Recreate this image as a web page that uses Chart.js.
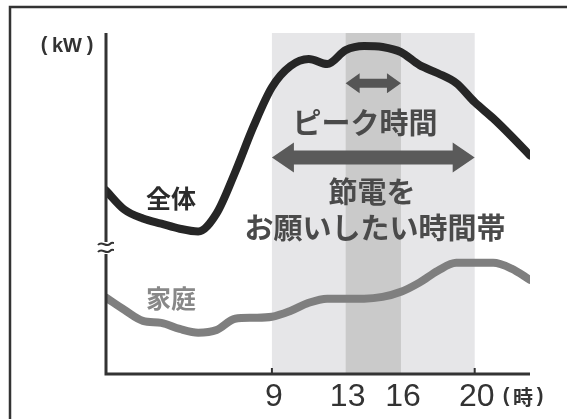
<!DOCTYPE html>
<html>
<head>
<meta charset="utf-8">
<script src="https://cdn.jsdelivr.net/npm/chart.js@4"></script>
<style>
  body { margin: 0; background: #fff; }
  #wrap { width: 567px; height: 419px; }
</style>
</head>
<body>
<div id="wrap"><canvas id="powerChart" width="567" height="419"></canvas></div>
<script>
// 時刻 (0〜23時)
var hours = [0, 1, 2, 3, 4, 5, 6, 7, 8, 9, 10, 11, 12, 13, 14, 15, 16, 17, 18, 19, 20, 21, 22, 23];
// 全体の電力需要 (相対値)
var totalKw = [53.8, 48.2, 45.6, 44.1, 42.6, 41.8, 47.1, 59.1, 72.6, 84.1, 90.3, 92.4,
               90.9, 95.0, 96.2, 95.9, 94.4, 90.6, 88.2, 85.3, 79.7, 75.0, 69.7, 64.1];
// 家庭の電力需要 (相対値)
var homeKw = [22.4, 18.8, 15.6, 15.0, 13.2, 12.1, 12.9, 16.2, 16.5, 16.8, 18.5, 20.9,
              22.1, 22.1, 22.1, 22.6, 24.1, 26.8, 30.3, 32.6, 32.6, 32.6, 30.9, 27.6];
// 目盛り
var tickHours = [9, 13, 16, 20];
var tickMarkHours = [9, 20];
// 節電をお願いしたい時間帯 / ピーク時間
var saveHours = [9, 20];
var peakHours = [13, 16];
// 矢印の高さ (相対値)
var peakArrowLevel = 85.3;
var saveArrowLevel = 63.5;

var JP = '"Noto Sans CJK JP", "Noto Sans", sans-serif';
var PAREN = 'bold 20px "Liberation Sans", Arial, sans-serif';

// 両矢印
function drawArrow(ctx, x1, x2, yc, shaft, headL, headH, color) {
  ctx.fillStyle = color;
  ctx.beginPath();
  ctx.moveTo(x1, yc);
  ctx.lineTo(x1 + headL, yc - headH);
  ctx.lineTo(x1 + headL, yc - shaft / 2);
  ctx.lineTo(x2 - headL, yc - shaft / 2);
  ctx.lineTo(x2 - headL, yc - headH);
  ctx.lineTo(x2, yc);
  ctx.lineTo(x2 - headL, yc + headH);
  ctx.lineTo(x2 - headL, yc + shaft / 2);
  ctx.lineTo(x1 + headL, yc + shaft / 2);
  ctx.lineTo(x1 + headL, yc + headH);
  ctx.closePath();
  ctx.fill();
}

function text(ctx, str, x, y, font, color) {
  ctx.font = font;
  ctx.fillStyle = color;
  ctx.textAlign = 'center';
  ctx.textBaseline = 'middle';
  ctx.fillText(str, x, y);
}

// かっこ付きの単位
function unit(ctx, str, x, y, half, font) {
  text(ctx, '(', x - half, y - 1, PAREN, '#333');
  text(ctx, str, x, y, font, '#333');
  text(ctx, ')', x + half, y - 1, PAREN, '#333');
}

var decor = {
  id: 'decor',
  beforeDraw: function(chart) {
    var ctx = chart.ctx;
    ctx.save();
    ctx.fillStyle = '#fff';
    ctx.fillRect(0, 0, chart.width, chart.height);
    // 外枠
    ctx.strokeStyle = '#333';
    ctx.lineWidth = 2.5;
    ctx.beginPath();
    ctx.moveTo(10, chart.height + 2);
    ctx.lineTo(10, 7);
    ctx.lineTo(chart.width + 2, 7);
    ctx.stroke();
    ctx.restore();
  },
  beforeDatasetsDraw: function(chart) {
    var ctx = chart.ctx, a = chart.chartArea, x = chart.scales.x;
    ctx.save();
    var s1 = x.getPixelForValue(saveHours[0]), s2 = x.getPixelForValue(saveHours[1]);
    ctx.fillStyle = '#e6e6e8';
    ctx.fillRect(s1, a.top, s2 - s1, a.bottom - a.top);
    var p1 = x.getPixelForValue(peakHours[0]), p2 = x.getPixelForValue(peakHours[1]);
    ctx.fillStyle = '#cacaca';
    ctx.fillRect(p1, a.top, p2 - p1, a.bottom - a.top);
    ctx.restore();
  },
  afterDatasetsDraw: function(chart) {
    var ctx = chart.ctx, a = chart.chartArea, x = chart.scales.x, y = chart.scales.y;
    ctx.save();
    // 軸
    ctx.strokeStyle = '#333';
    ctx.lineWidth = 3;
    ctx.beginPath();
    ctx.moveTo(a.left, a.top);
    ctx.lineTo(a.left, a.bottom);
    ctx.lineTo(a.right, a.bottom);
    ctx.stroke();
    ctx.lineWidth = 2;
    tickMarkHours.forEach(function(h) {
      var px = x.getPixelForValue(h);
      ctx.beginPath();
      ctx.moveTo(px, a.bottom);
      ctx.lineTo(px, a.bottom - 6);
      ctx.stroke();
    });
    // 省略記号
    ctx.fillStyle = '#fff';
    ctx.fillRect(a.left - 3, 242, 6, 12);
    ctx.strokeStyle = '#333';
    ctx.lineWidth = 2;
    [244, 251].forEach(function(yy) {
      ctx.beginPath();
      ctx.moveTo(a.left - 8, yy + 1);
      ctx.bezierCurveTo(a.left - 4, yy - 4, a.left + 0, yy + 4, a.left + 4, yy);
      ctx.bezierCurveTo(a.left + 6, yy - 2, a.left + 7, yy - 1, a.left + 8, yy - 1);
      ctx.stroke();
    });
    // 目盛りラベル
    tickHours.forEach(function(h) {
      text(ctx, String(h), x.getPixelForValue(h) + 2, 397, '32px "Liberation Sans", Arial, sans-serif', '#333');
    });
    unit(ctx, '時', 523, 397, 17, 'bold 20px ' + JP);
    unit(ctx, 'kW', 67, 46, 23, 'bold 20px "Liberation Sans", Arial, sans-serif');
    // 矢印
    drawArrow(ctx, x.getPixelForValue(peakHours[0]), x.getPixelForValue(peakHours[1]),
              y.getPixelForValue(peakArrowLevel), 9, 14, 10, '#555');
    drawArrow(ctx, x.getPixelForValue(saveHours[0]), x.getPixelForValue(saveHours[1]),
              y.getPixelForValue(saveArrowLevel), 14, 22, 15, '#5a5a5a');
    // 注釈
    text(ctx, 'ピーク時間', 365, 123, 'bold 29px ' + JP, '#4a4a4a');
    text(ctx, '節電を', 372, 192, 'bold 29px ' + JP, '#4a4a4a');
    text(ctx, 'お願いしたい時間帯', 375, 228, 'bold 29px ' + JP, '#4a4a4a');
    text(ctx, '全体', 171, 198, 'bold 25px ' + JP, '#2b2b2b');
    text(ctx, '家庭', 171, 298, 'bold 25px ' + JP, '#888');
    ctx.restore();
  }
};

var ctx = document.getElementById('powerChart').getContext('2d');
var powerChart = new Chart(ctx, {
  type: 'line',
  data: {
    labels: hours,
    datasets: [{
      label: '家庭',
      data: homeKw,
      borderColor: '#7f7f7f',
      borderWidth: 8,
      pointRadius: 0,
      cubicInterpolationMode: 'monotone',
      borderCapStyle: 'round',
      borderJoinStyle: 'round'
    }, {
      label: '全体',
      data: totalKw,
      borderColor: '#262626',
      borderWidth: 8,
      pointRadius: 0,
      cubicInterpolationMode: 'monotone',
      borderCapStyle: 'round',
      borderJoinStyle: 'round'
    }]
  },
  options: {
    responsive: false,
    animation: false,
    layout: { padding: { left: 106, right: 37, top: 33, bottom: 45 } },
    plugins: { legend: { display: false }, tooltip: { enabled: false } },
    scales: {
      x: { type: 'linear', min: 0, max: 23, display: false },
      y: { min: 0, max: 100, display: false }
    }
  },
  plugins: [decor]
});
</script>
</body>
</html>
